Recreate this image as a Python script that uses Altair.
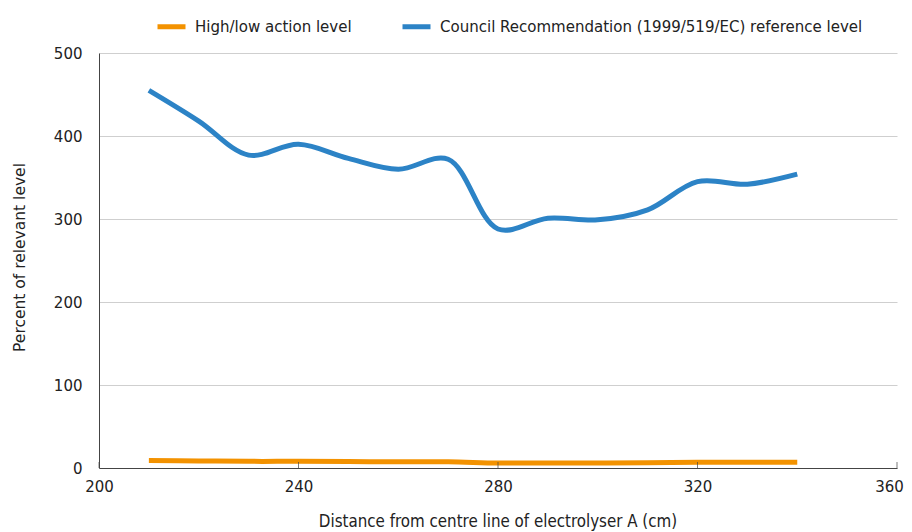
import altair as alt
import pandas as pd

distance = [210, 220, 230, 240, 250, 260, 270, 280, 290, 300, 310, 320, 330, 340]
council = [455, 418, 377, 390, 373, 360, 372, 288, 301, 299, 311, 345, 342, 354]
action = [9, 8.5, 8, 8, 7.8, 7.5, 7.5, 6, 6, 6, 6.2, 7, 7, 7]
series_names = ["High/low action level", "Council Recommendation (1999/519/EC) reference level"]
series_colors = ["#F39200", "#2C83C6"]
x_ticks = [200, 240, 280, 320, 360]
y_ticks = [0, 100, 200, 300, 400, 500]

rows = []
for d, v in zip(distance, action):
    rows.append({"distance": d, "value": v, "series": series_names[0]})
for d, v in zip(distance, council):
    rows.append({"distance": d, "value": v, "series": series_names[1]})
df = pd.DataFrame(rows)

FONT = "DejaVu Sans Condensed"

x_enc = alt.X("distance:Q",
              scale=alt.Scale(domain=[200, 360], nice=False),
              axis=alt.Axis(values=x_ticks, grid=False, ticks=False, labelFlush=False,
                            labelOffset={"condition": {"test": "datum.value === 360", "value": -8},
                                         "value": 0},
                            labelFontSize=15, labelPadding=11, labelColor="#222",
                            domainColor="#444", labelFont="DejaVu Sans",
                            title="Distance from centre line of electrolyser A (cm)",
                            titleFont=FONT, titleFontSize=16.8, titleFontWeight="normal",
                            titleColor="#222", titleX=398.5, titleY=53,
                            titleBaseline="middle", titleAlign="center"))
y_enc = alt.Y("value:Q",
              scale=alt.Scale(domain=[0, 500], nice=False),
              axis=alt.Axis(values=y_ticks, grid=True, gridColor="#cfcfcf", ticks=False,
                            labelFlush=False,
                            labelFontSize=15, labelPadding=17, labelColor="#222",
                            domainColor="#444", labelFont="DejaVu Sans",
                            title="Percent of relevant level",
                            titleFont="DejaVu Sans", titleFontSize=15.5, titleFontWeight="normal",
                            titleColor="#222", titleX=-80, titleY=204, titleAngle=270,
                            titleBaseline="middle", titleAlign="center"))

lines = alt.Chart(df).mark_line(strokeWidth=5, interpolate="catmull-rom").encode(
    x=x_enc,
    y=y_enc,
    color=alt.Color("series:N",
                    scale=alt.Scale(domain=series_names, range=series_colors),
                    legend=alt.Legend(title=None, orient="none", direction="horizontal",
                                      legendX=56, legendY=-43,
                                      symbolType="stroke", symbolStrokeWidth=5,
                                      symbolSize=784, labelFontSize=16.7, labelFont=FONT,
                                      labelColor="#222", columnPadding=40, labelOffset=7,
                                      labelLimit=800)),
    order=alt.Order("distance:Q"),
)

tick_df = pd.DataFrame({"distance": x_ticks, "value": [0] * len(x_ticks)})
ticks = alt.Chart(tick_df).mark_tick(orient="vertical", size=6, thickness=1,
                                      color="#444", yOffset=-3).encode(
    x=alt.X("distance:Q"),
    y=alt.Y("value:Q"),
)

chart = alt.layer(lines, ticks).properties(
    width=798, height=415,
    autosize=alt.AutoSizeParams(type="none"),
    padding={"left": 91, "top": 45, "right": 7, "bottom": 64},
).configure_view(stroke=None)

chart.save("out.html", embed_options={"renderer": "svg", "actions": False})
